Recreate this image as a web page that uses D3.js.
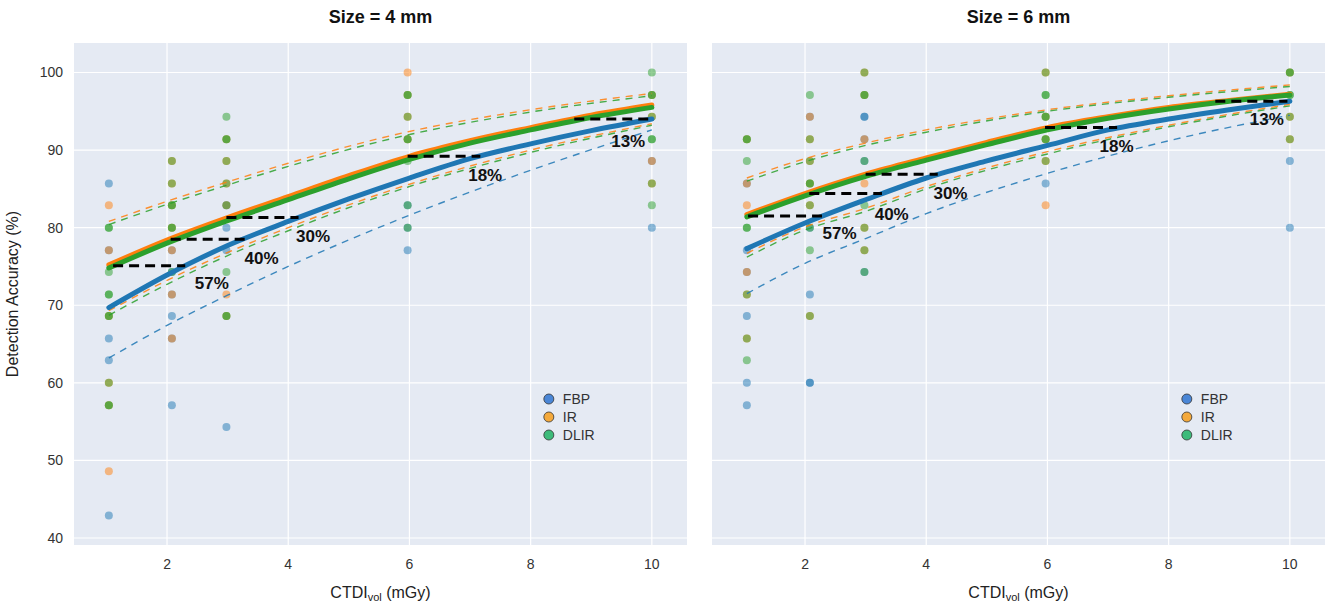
<!DOCTYPE html>
<meta charset="utf-8">
<script src="https://cdn.jsdelivr.net/npm/d3@7"></script>
<style>
  body { margin: 0; background: #fff; }
  text { font-family: "Liberation Sans", Arial, sans-serif; }
</style>
<div id="chart"></div>
<script>

// ---- data ----
const methods = ["FBP", "IR", "DLIR"];
const lineColors = ["#1f77b4", "#ff7f0e", "#2ca02c"];
const legendColors = ["#4a86d6", "#f4a93b", "#3dbb7a"];
const xTicks = [2, 4, 6, 8, 10];
const yTicks = [40, 50, 60, 70, 80, 90, 100];
const titles = ["Size = 4 mm", "Size = 6 mm"];

// CTDIvol levels of the reader scores
const doses = [1.04, 2.08, 2.98, 5.97, 10];

// reader scores (%) per dose, one list per method (4 mm)
const fbp4 = [[85.7, 77.1, 65.7, 62.9, 42.9], [77.1, 74.3, 71.4, 68.6, 65.7, 57.1],
  [82.9, 80.0, 77.1, 54.3], [82.9, 80.0, 77.1], [88.6, 80.0]];
const ir4 = [[82.9, 77.1, 68.6, 60.0, 57.1, 48.6], [88.6, 85.7, 82.9, 80.0, 77.1, 71.4, 65.7],
  [91.4, 88.6, 85.7, 82.9, 71.4, 68.6], [100, 97.1, 94.3, 91.4], [97.1, 94.3, 88.6, 85.7]];
const dlir4 = [[80.0, 80.0, 74.3, 71.4, 71.4, 68.6, 68.6, 60.0, 57.1, 57.1], [88.6, 85.7, 82.9, 82.9, 80.0, 80.0, 74.3],
  [94.3, 91.4, 91.4, 88.6, 85.7, 82.9, 74.3, 68.6, 68.6], [97.1, 97.1, 94.3, 91.4, 91.4, 88.6, 82.9, 80.0],
  [100, 97.1, 97.1, 94.3, 91.4, 91.4, 85.7, 82.9]];

// 6 mm
const fbp6 = [[85.7, 77.1, 74.3, 68.6, 60.0, 57.1], [94.3, 80.0, 71.4, 60.0, 60.0],
  [94.3, 94.3, 91.4, 88.6, 74.3], [85.7], [88.6, 80.0]];
const ir6 = [[91.4, 85.7, 82.9, 74.3, 71.4, 65.7], [94.3, 91.4, 88.6, 85.7, 82.9, 68.6],
  [100, 97.1, 91.4, 85.7, 80.0, 77.1], [100, 94.3, 91.4, 88.6, 82.9], [100, 94.3, 91.4]];
const dlir6 = [[91.4, 91.4, 88.6, 80.0, 80.0, 71.4, 65.7, 62.9], [97.1, 91.4, 88.6, 85.7, 85.7, 82.9, 80.0, 77.1, 68.6],
  [100, 97.1, 97.1, 88.6, 82.9, 80.0, 77.1, 74.3], [100, 97.1, 97.1, 94.3, 94.3, 91.4, 91.4, 88.6],
  [100, 100, 97.1, 97.1, 94.3, 91.4]];

// fitted curves (%)
const fitX = [1.04, 2, 3, 4, 5, 6, 7, 8, 9, 10];
const fitFBP4 = [69.7, 73.9, 77.7, 80.8, 83.7, 86.4, 88.9, 90.8, 92.5, 94.0];
const fitIR4 = [75.2, 78.4, 81.3, 84.0, 86.7, 89.2, 91.2, 92.9, 94.5, 95.8];
const fitDLIR4 = [74.8, 78.0, 80.9, 83.6, 86.3, 88.8, 90.9, 92.6, 94.2, 95.5];
const fitFBP6 = [77.3, 80.6, 83.6, 86.4, 88.6, 90.6, 92.6, 94.0, 95.2, 96.3];
const fitIR6 = [81.7, 84.4, 86.9, 89.0, 91.0, 92.9, 94.3, 95.5, 96.4, 97.2];
const fitDLIR6 = [81.4, 84.1, 86.6, 88.7, 90.7, 92.6, 94.1, 95.3, 96.3, 97.1];

// confidence bands (dashed)
const ciX = [1.04, 2, 3, 4, 6, 8, 10];
const irHi4 = [80.8, 83.4, 85.9, 88.3, 92.4, 95.2, 97.3];
const dlirHi4 = [80.4, 83.0, 85.5, 87.9, 92.0, 94.9, 97.0];
const irLo4 = [69.3, 73.2, 76.8, 80.0, 85.6, 90.0, 93.4];
const dlirLo4 = [68.7, 72.7, 76.4, 79.6, 85.3, 89.7, 93.2];
const fbpLo4 = [63.2, 67.4, 71.3, 75.0, 81.6, 87.4, 92.6];
const irHi6 = [86.4, 88.9, 90.9, 92.6, 95.2, 97.0, 98.4];
const dlirHi6 = [86.0, 88.5, 90.6, 92.3, 95.0, 96.8, 98.2];
const irLo6 = [76.7, 80.1, 82.5, 85.3, 89.8, 93.2, 95.9];
const dlirLo6 = [76.2, 79.7, 82.1, 85.0, 89.5, 93.0, 95.7];
const fbpLo6 = [71.5, 75.4, 78.6, 81.8, 87.0, 91.2, 94.5];

// dose-reduction markers: [from CTDI, to CTDI, accuracy]
const reduction4 = [[1.11, 2.30, 75.1], [2.06, 3.29, 78.5], [2.98, 4.17, 81.3], [5.97, 7.17, 89.2], [8.72, 9.94, 94.0]];
const reduction6 = [[1.06, 2.28, 81.5], [2.07, 3.27, 84.4], [3.00, 4.19, 86.9], [5.96, 7.15, 92.9], [8.77, 9.96, 96.3]];
const reductionLabels = ["57%", "40%", "30%", "18%", "13%"];
// label anchors [CTDI, accuracy]
const labelAt4 = [[2.74, 72.9], [3.56, 76.1], [4.41, 78.9], [7.25, 86.8], [9.61, 91.2]];
const labelAt6 = [[2.57, 79.3], [3.43, 81.8], [4.40, 84.4], [7.14, 90.5], [9.62, 94.0]];

// ---- layout ----
var W = 1326, H = 607;
var plotW = 613, plotTop = 43, plotBottom = 545;
var panelX = [74, 712];

var svg = d3.select("#chart").append("svg")
  .attr("width", W).attr("height", H);

var y = d3.scaleLinear().domain([39.1, 103.8]).range([plotBottom, plotTop]);

var panels = [
  { scores: [fbp4, ir4, dlir4], fits: [fitFBP4, fitIR4, fitDLIR4],
    ci: [[irHi4, 1], [dlirHi4, 2], [irLo4, 1], [dlirLo4, 2], [fbpLo4, 0]],
    red: reduction4, lab: labelAt4 },
  { scores: [fbp6, ir6, dlir6], fits: [fitFBP6, fitIR6, fitDLIR6],
    ci: [[irHi6, 1], [dlirHi6, 2], [irLo6, 1], [dlirLo6, 2], [fbpLo6, 0]],
    red: reduction6, lab: labelAt6 }
];

panels.forEach(function(p, i) {
  var x = d3.scaleLinear().domain([0.465, 10.58]).range([0, plotW]);
  var g = svg.append("g").attr("transform", "translate(" + panelX[i] + ",0)");

  g.append("rect")
    .attr("x", 0).attr("y", plotTop)
    .attr("width", plotW).attr("height", plotBottom - plotTop)
    .attr("fill", "#e5eaf3");

  // grid
  g.selectAll(".gx").data(xTicks).enter().append("line")
    .attr("x1", d => x(d)).attr("x2", d => x(d))
    .attr("y1", plotTop).attr("y2", plotBottom)
    .attr("stroke", "#fff").attr("stroke-width", 1.2);
  g.selectAll(".gy").data(yTicks).enter().append("line")
    .attr("x1", 0).attr("x2", plotW)
    .attr("y1", d => y(d)).attr("y2", d => y(d))
    .attr("stroke", "#fff").attr("stroke-width", 1.2);

  // tick labels
  g.selectAll(".tx").data(xTicks).enter().append("text")
    .attr("x", d => x(d)).attr("y", 569)
    .attr("text-anchor", "middle")
    .attr("font-size", 14).attr("fill", "#333")
    .text(d => d);
  if (i === 0) {
    g.selectAll(".ty").data(yTicks).enter().append("text")
      .attr("x", -11).attr("y", d => y(d) + 5)
      .attr("text-anchor", "end")
      .attr("font-size", 14).attr("fill", "#333")
      .text(d => d);
    g.append("text")
      .attr("transform", "translate(-56," + ((plotTop + plotBottom) / 2) + ") rotate(-90)")
      .attr("text-anchor", "middle")
      .attr("font-size", 16).attr("fill", "#222")
      .text("Detection Accuracy (%)");
  }

  // axis title with subscript
  var xt = g.append("text")
    .attr("x", plotW / 2).attr("y", 598)
    .attr("text-anchor", "middle")
    .attr("font-size", 16).attr("fill", "#222");
  xt.append("tspan").text("CTDI");
  xt.append("tspan").attr("font-size", 11).attr("dy", 3).text("vol");
  xt.append("tspan").attr("dy", -3).text(" (mGy)");

  g.append("text")
    .attr("x", plotW / 2).attr("y", 23)
    .attr("text-anchor", "middle")
    .attr("font-size", 18).attr("font-weight", "bold").attr("fill", "#111")
    .text(titles[i]);

  // reader scores
  p.scores.forEach(function(byDose, m) {
    var pts = [];
    byDose.forEach(function(vals, k) {
      vals.forEach(function(v) { pts.push([doses[k], v]); });
    });
    g.append("g").selectAll("circle").data(pts).enter().append("circle")
      .attr("cx", d => x(d[0])).attr("cy", d => y(d[1]))
      .attr("r", 4)
      .attr("fill", lineColors[m]).attr("fill-opacity", 0.5);
  });

  var line = d3.line().curve(d3.curveMonotoneX);

  // confidence bands
  p.ci.forEach(function(c) {
    g.append("path")
      .attr("d", line(ciX.map((d, k) => [x(d), y(c[0][k])])))
      .attr("fill", "none")
      .attr("stroke", lineColors[c[1]])
      .attr("stroke-width", 1.4)
      .attr("stroke-dasharray", "7,6")
      .attr("opacity", 0.85);
  });

  // fitted curves
  [0, 1, 2].forEach(function(m) {
    g.append("path")
      .attr("d", line(fitX.map((d, k) => [x(d), y(p.fits[m][k])])))
      .attr("fill", "none")
      .attr("stroke", lineColors[m])
      .attr("stroke-width", 5)
      .attr("stroke-linecap", "round");
  });

  // dose-reduction markers
  p.red.forEach(function(r, k) {
    g.append("line")
      .attr("x1", x(r[0])).attr("x2", x(r[1]))
      .attr("y1", y(r[2])).attr("y2", y(r[2]))
      .attr("stroke", "#000").attr("stroke-width", 3)
      .attr("stroke-dasharray", "10,6");
    g.append("text")
      .attr("x", x(p.lab[k][0])).attr("y", y(p.lab[k][1]))
      .attr("dy", "0.35em")
      .attr("text-anchor", "middle")
      .attr("font-size", 17).attr("font-weight", "bold").attr("fill", "#111")
      .text(reductionLabels[k]);
  });

  // legend
  var lg = g.append("g").attr("transform", "translate(" + x(8.3) + ",399)");
  methods.forEach(function(name, m) {
    lg.append("circle")
      .attr("cx", 0).attr("cy", m * 18)
      .attr("r", 5)
      .attr("fill", legendColors[m])
      .attr("stroke", "#333").attr("stroke-width", 0.8);
    lg.append("text")
      .attr("x", 14).attr("y", m * 18 + 5)
      .attr("font-size", 14).attr("fill", "#333")
      .text(name);
  });
});

</script>
